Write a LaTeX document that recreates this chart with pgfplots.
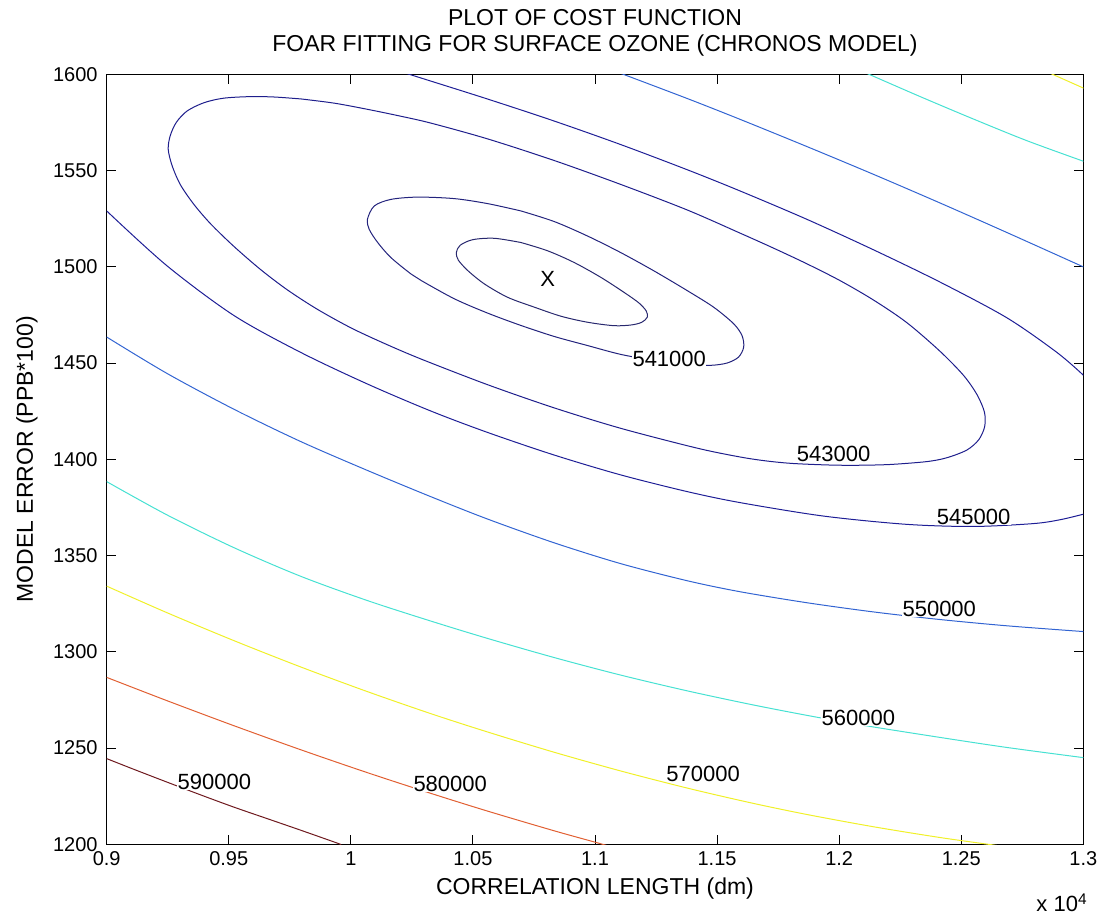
\documentclass[border=0pt]{standalone}
\usepackage{fontspec}
\setmainfont{Liberation Sans}
\usepackage{pgfplots}
\pgfplotsset{compat=1.18}
\definecolor{cA}{RGB}{40,40,110}
\definecolor{cB}{RGB}{35,35,125}
\definecolor{cC}{RGB}{30,30,140}
\definecolor{cD}{RGB}{30,30,150}
\definecolor{cE}{RGB}{50,100,210}
\definecolor{cF}{RGB}{70,225,210}
\definecolor{cG}{RGB}{240,240,40}
\definecolor{cH}{RGB}{225,95,50}
\definecolor{cI}{RGB}{110,25,30}
\newcommand{\ff}{\fontsize{11}{13}\selectfont}
\newcommand{\ft}{\fontsize{11.5}{13.5}\selectfont}
\newcommand{\fk}{\fontsize{10}{12}\selectfont}
\begin{document}
\begin{tikzpicture}
\begin{axis}[
  width=488.3pt, height=385pt, scale only axis,
  xmin=0.9, xmax=1.3, ymin=1200, ymax=1600,
  clip=false,
  xtick={0.9,0.95,1,1.05,1.1,1.15,1.2,1.25,1.3},
  xticklabels={0.9,0.95,1,1.05,1.1,1.15,1.2,1.25,1.3},
  ytick={1200,1250,1300,1350,1400,1450,1500,1550,1600},
  yticklabels={1200,1250,1300,1350,1400,1450,1500,1550,1600},
  tick align=inside,
  major tick length=4.7pt,
  tick style={black, line width=0.5pt},
  axis line style={black, line width=0.6pt},
  ticklabel style={font=\fk, inner sep=0pt},
  xticklabel style={anchor=base, yshift=-10.85pt},
  yticklabel style={anchor=east, xshift=-4.35pt},
  every axis plot/.append style={no marks, line width=0.5pt, smooth},
]
\path ([xshift=-53.35pt,yshift=-36.35pt]rel axis cs:0,0) rectangle ([xshift=8.85pt,yshift=37.15pt]rel axis cs:1,1);
\begin{scope}
\clip (rel axis cs:0,0) rectangle (rel axis cs:1,1);
% 540000 (inner)
\addplot[cA] coordinates {(1.0697,1512.6)(1.0806,1508.3)(1.0915,1502.2)(1.1024,1494.5)(1.1119,1486.7)(1.1180,1481.2)(1.1210,1477.0)(1.1214,1473.8)(1.1192,1471.2)(1.1150,1469.8)(1.1078,1469.4)(1.0969,1471.2)(1.0861,1474.3)(1.0752,1479.0)(1.0643,1484.1)(1.0548,1491.0)(1.048,1497.9)(1.0440,1503.5)(1.0432,1507.4)(1.0448,1511.2)(1.0500,1514.1)(1.0588,1514.8)(1.0697,1512.6)};
% 541000
\addplot[cB] coordinates {(1.0697,1529.0)(1.0833,1523.5)(1.0969,1516.0)(1.1105,1507.4)(1.1241,1497.9)(1.1378,1487.6)(1.1486,1479.0)(1.1568,1470.4)(1.1602,1464.3)(1.1609,1458.3)(1.1588,1453.1)(1.1541,1450.0)(1.1473,1448.8)(1.1378,1449.2)(1.1241,1451.4)(1.1105,1454.5)(1.0969,1459.1)(1.0833,1463.8)(1.0697,1469.5)(1.0561,1475.9)(1.0425,1483.3)(1.0289,1492.8)(1.0247,1496.2)(1.0164,1504.8)(1.011,1512.6)(1.0075,1519.5)(1.0068,1524.7)(1.0096,1531.6)(1.0164,1535.0)(1.0274,1536.2)(1.0425,1535.4)(1.0561,1532.8)(1.0697,1529.0)};
% 543000
\addplot[cC] coordinates {(0.9795,1587.2)(0.9932,1585.0)(1.0068,1581.8)(1.0205,1578.2)(1.0329,1574.6)(1.0561,1566.4)(1.0833,1555.2)(1.1105,1542.8)(1.1378,1529.5)(1.1594,1517.5)(1.1731,1509.7)(1.1867,1501.6)(1.2004,1492.8)(1.2141,1482.7)(1.2277,1471.0)(1.2414,1456.0)(1.2510,1443.5)(1.2565,1433.5)(1.2595,1424.5)(1.2596,1417.0)(1.2572,1410.2)(1.2523,1404.8)(1.2441,1400.8)(1.2359,1398.8)(1.2209,1397.3)(1.2080,1396.9)(1.1966,1397.0)(1.1813,1397.8)(1.1704,1399.1)(1.1594,1401.2)(1.1418,1405.8)(1.1105,1416.1)(1.0833,1426.7)(1.0561,1438.7)(1.0289,1452.0)(1.0137,1460.2)(1.0,1468.3)(0.9863,1477.9)(0.974,1488.0)(0.963,1498.6)(0.952,1510.7)(0.9425,1522.4)(0.9356,1532.6)(0.9301,1542.8)(0.9268,1552.5)(0.9252,1561.0)(0.9260,1568.0)(0.9285,1575.0)(0.9330,1581.0)(0.9400,1585.3)(0.9480,1587.6)(0.9589,1588.4)(0.9685,1588.2)(0.9795,1587.2)};
% 545000
\addplot[cD] coordinates {(1.0226,1600.5)(1.0289,1598.0)(1.0561,1587.1)(1.0833,1575.7)(1.1105,1563.5)(1.1378,1550.4)(1.1594,1539.4)(1.1867,1524.7)(1.2141,1508.8)(1.2414,1492.0)(1.2687,1473.5)(1.2892,1455.5)(1.3001,1443.6)};
\addplot[cD] coordinates {(0.9,1529.0)(0.9247,1500.5)(0.9521,1474.7)(0.9795,1455.5)(1.0068,1439.1)(1.0329,1425.0)(1.0561,1413.9)(1.0833,1402.2)(1.1105,1391.9)(1.1378,1383.2)(1.1594,1377.5)(1.1936,1370.5)(1.2277,1366.2)(1.2551,1365.1)(1.2796,1366.6)(1.2905,1368.6)(1.3001,1371.5)};
% 550000
\addplot[cE] coordinates {(1.1105,1600.5)(1.1378,1587.4)(1.1594,1576.6)(1.1867,1562.5)(1.2141,1548.0)(1.2414,1533.1)(1.2687,1517.8)(1.3001,1499.9)};
\addplot[cE] coordinates {(0.9,1463.5)(0.9247,1444.6)(0.9521,1426.0)(0.9795,1409.2)(1.0068,1394.2)(1.0329,1380.5)(1.0561,1368.9)(1.0833,1356.6)(1.1105,1345.8)(1.1378,1336.9)(1.1594,1331.2)(1.1867,1325.5)(1.2141,1320.7)(1.241,1316.8)(1.2687,1313.5)(1.3001,1310.5)};
% 560000
\addplot[cF] coordinates {(1.2113,1600.5)(1.2332,1588.4)(1.2551,1576.7)(1.2769,1565.5)(1.3001,1554.8)};
\addplot[cF] coordinates {(0.9,1388.4)(0.9247,1371.1)(0.9521,1354.1)(0.9795,1339.2)(1.0068,1326.6)(1.0329,1315.9)(1.0561,1306.9)(1.0833,1297.0)(1.1105,1287.9)(1.1378,1279.7)(1.1636,1272.7)(1.1867,1267.0)(1.2079,1262.2)(1.2414,1255.5)(1.2687,1250.3)(1.3001,1245.0)};
% 570000
\addplot[cG] coordinates {(1.2865,1600.5)(1.3001,1592.8)};
\addplot[cG] coordinates {(0.9,1334.1)(0.9247,1320.3)(0.9521,1305.8)(0.9795,1292.1)(1.0068,1279.3)(1.0329,1267.8)(1.0561,1258.3)(1.0833,1247.8)(1.1105,1238.1)(1.1378,1229.2)(1.1636,1221.6)(1.1867,1215.5)(1.2141,1209.1)(1.2414,1203.5)(1.2633,1199.6)(1.27,1198.4)};
% 580000
\addplot[cH] coordinates {(0.9,1286.7)(0.9247,1274.6)(0.9521,1261.6)(0.9795,1249.1)(1.0068,1237.2)(1.0329,1226.4)(1.0561,1217.2)(1.0833,1207.0)(1.1003,1201.0)(1.105,1199.3)};
% 590000
\addplot[cI] coordinates {(0.9,1244.5)(0.911,1239.0)(0.9247,1232.3)(0.9384,1225.7)(0.9521,1219.3)(0.9658,1213.3)(0.9795,1207.3)(0.9938,1200.9)(0.996,1199.8)};
\end{scope}
% contour labels
\begin{scope}[every node/.style={font=\ff, fill=white, inner sep=0.2pt}]
\node at (axis cs:1.1304,1452.3) {541000};
\node at (axis cs:1.1977,1402.6) {543000};
\node at (axis cs:1.2551,1370.0) {545000};
\node at (axis cs:1.2410,1322.4) {550000};
\node at (axis cs:1.2079,1265.5) {560000};
\node at (axis cs:1.1443,1236.7) {570000};
\node at (axis cs:1.0407,1231.6) {580000};
\node at (axis cs:0.9441,1232.4) {590000};
\end{scope}
\node[font=\ff, inner sep=0pt] at (axis cs:1.0806,1493.6) {X};
% titles and labels
\node[font=\ft, anchor=base, inner sep=0pt] at ([yshift=24.15pt]rel axis cs:0.5,1) {PLOT OF COST FUNCTION};
\node[font=\ft, anchor=base, inner sep=0pt] at ([yshift=11.15pt]rel axis cs:0.5,1) {FOAR FITTING FOR SURFACE OZONE (CHRONOS MODEL)};
\node[font=\ft, anchor=base, inner sep=0pt] at ([yshift=-25.35pt]rel axis cs:0.5,0) {CORRELATION LENGTH (dm)};
\node[font=\ft, anchor=base, inner sep=0pt, rotate=90] at ([xshift=-36.85pt]rel axis cs:0,0.5) {MODEL ERROR (PPB*100)};
\node[font=\ff, anchor=base east, inner sep=0pt] at ([xshift=2.35pt,yshift=-33.85pt]rel axis cs:1,0) {x 10\textsuperscript{4}};
\end{axis}
\end{tikzpicture}
\end{document}
